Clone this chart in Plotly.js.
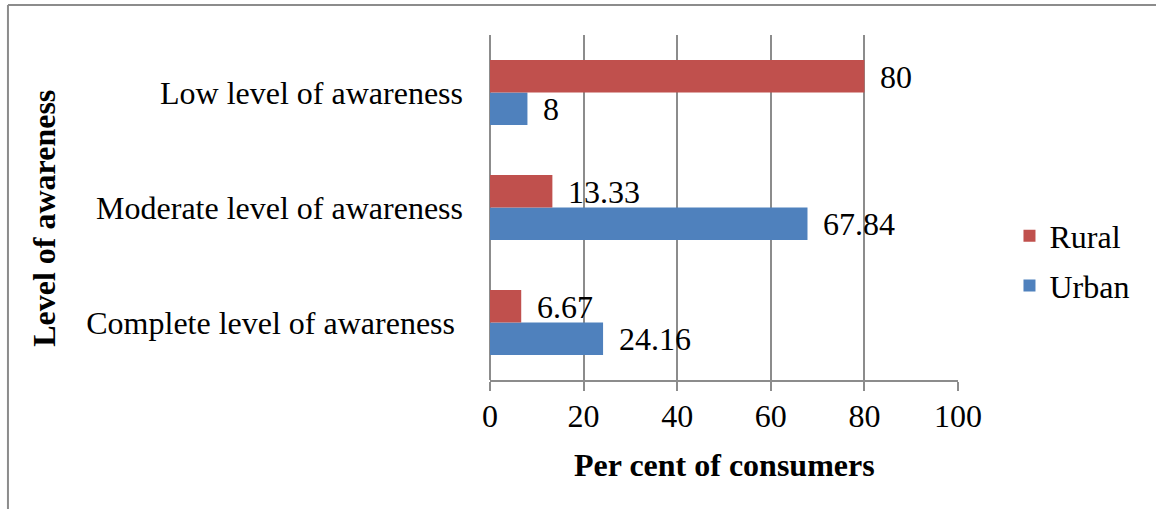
<!DOCTYPE html>
<html>
<head>
<meta charset="utf-8">
<script src="https://cdn.plot.ly/plotly-3.0.1.min.js"></script>
<style>
html,body{margin:0;padding:0;background:#fff;}
#chart{width:1156px;height:509px;}
</style>
</head>
<body>
<div id="chart"></div>
<script>
const categories = ['Complete level of awareness ', 'Moderate level of awareness', 'Low level of awareness'];
const urbanValues = [24.16, 67.84, 8];
const ruralValues = [6.67, 13.33, 80];
const urbanLabels = ['24.16', '67.84', '8'];
const ruralLabels = ['6.67', '13.33', '80'];
const xTicks = [0, 20, 40, 60, 80, 100];

const FONT = 'Liberation Serif, Times New Roman, serif';
const GRID = '#8c8c8c';
const FS = 32;

const traces = [
  {type: 'bar', orientation: 'h', name: 'Urban', y: categories, x: urbanValues,
   marker: {color: '#4F81BD'}, legendgroup: 'u', legendrank: 2, hoverinfo: 'none'},
  {type: 'bar', orientation: 'h', name: 'Rural', y: categories, x: ruralValues,
   marker: {color: '#C0504D'}, legendgroup: 'r', legendrank: 1, hoverinfo: 'none'}
];

const annotations = [];
categories.forEach((c, i) => {
  annotations.push({x: urbanValues[i], y: c, xref: 'x', yref: 'y', text: urbanLabels[i],
    showarrow: false, xanchor: 'left', yanchor: 'middle', xshift: 14, yshift: -16,
    font: {family: FONT, size: FS, color: '#000'}});
  annotations.push({x: ruralValues[i], y: c, xref: 'x', yref: 'y', text: ruralLabels[i],
    showarrow: false, xanchor: 'left', yanchor: 'middle', xshift: 14, yshift: 16,
    font: {family: FONT, size: FS, color: '#000'}});
});
annotations.push({text: '<b>Per cent of consumers</b>', xref: 'paper', yref: 'paper',
  x: 0.5, y: -0.245, xanchor: 'center', yanchor: 'middle', showarrow: false,
  font: {family: FONT, size: FS, color: '#000'}});
annotations.push({text: '<b>Level of awareness</b>', xref: 'paper', yref: 'paper',
  x: -0.953, y: 0.47, xanchor: 'center', yanchor: 'middle', showarrow: false, textangle: -90,
  font: {family: FONT, size: FS, color: '#000'}});

const layout = {
  width: 1156, height: 509,
  margin: {l: 490, r: 198, t: 35, b: 129, pad: 0},
  paper_bgcolor: '#fff', plot_bgcolor: '#fff',
  barmode: 'group', bargap: 0.435, bargroupgap: 0,
  font: {family: FONT, size: FS, color: '#000'},
  xaxis: {range: [0, 100], tickvals: xTicks, ticktext: xTicks.map(String),
    showgrid: true, gridcolor: GRID, gridwidth: 2,
    showline: true, linecolor: GRID, linewidth: 2,
    ticks: 'outside', ticklen: 9, tickwidth: 2, tickcolor: GRID,
    zeroline: true, zerolinecolor: GRID, zerolinewidth: 2,
    ticklabelstandoff: -2, fixedrange: true,
    tickfont: {family: FONT, size: FS, color: '#000'}},
  yaxis: {type: 'category', categoryorder: 'array', categoryarray: categories,
    showgrid: false, showline: false, zeroline: false, ticks: '',
    ticklabelstandoff: 26, fixedrange: true,
    tickfont: {family: FONT, size: FS, color: '#000'}},
  showlegend: true,
  legend: {x: 1.11, y: 0.345, xanchor: 'left', yanchor: 'middle',
    traceorder: 'grouped', tracegroupgap: 5,
    font: {family: FONT, size: FS, color: '#000'}, bgcolor: 'rgba(0,0,0,0)'},
  annotations: annotations,
  shapes: [
    {type: 'line', xref: 'paper', yref: 'paper', x0: -1.03, x1: 1.43, y0: 1.087, y1: 1.087,
     line: {color: '#8c8c8c', width: 2}},
    {type: 'line', xref: 'paper', yref: 'paper', x0: -1.03, x1: -1.03, y0: 1.087, y1: -0.4,
     line: {color: '#8c8c8c', width: 2}}
  ]
};

Plotly.newPlot('chart', traces, layout, {displayModeBar: false, staticPlot: true});
</script>
</body>
</html>
